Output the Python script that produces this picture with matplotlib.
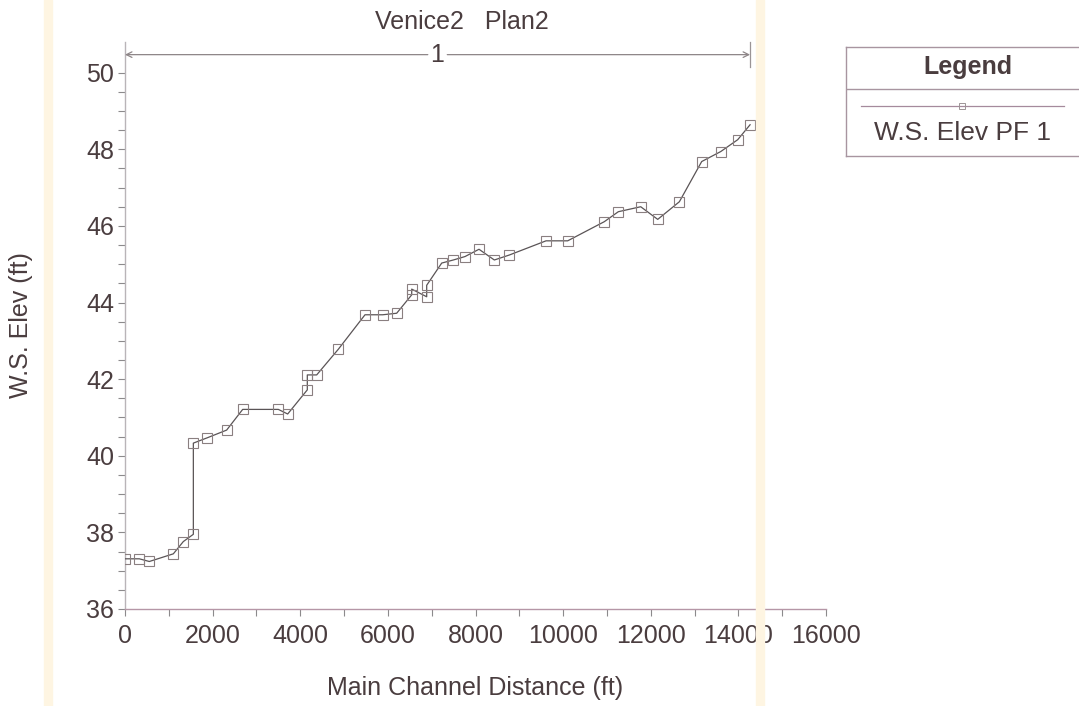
import numpy as np
import matplotlib
matplotlib.use("Agg")
import matplotlib.pyplot as plt
from matplotlib.lines import Line2D

plt.rcParams["font.family"] = ["Liberation Sans", "DejaVu Sans"]

# W.S. elevation profile, reach 1
station = [0, 327, 555, 1103, 1331, 1560, 1560, 1880, 2320, 2686, 3500, 3713,
           4161, 4161, 4375, 4869, 5478, 5882, 6201, 6544, 6544, 6886, 6886,
           7229, 7494, 7761, 8080, 8430, 8772, 9610, 10104, 10940, 11260,
           11771, 12159, 12653, 13163, 13597, 13985, 14267]
ws_elev = [37.31, 37.31, 37.24, 37.44, 37.76, 37.95, 40.33, 40.47, 40.67,
           41.21, 41.21, 41.09, 41.72, 42.11, 42.11, 42.78, 43.68, 43.68,
           43.72, 44.20, 44.35, 44.15, 44.45, 45.03, 45.11, 45.20, 45.39,
           45.11, 45.24, 45.61, 45.61, 46.11, 46.37, 46.50, 46.17, 46.63,
           47.68, 47.94, 48.25, 48.64]
reach_start = 0
reach_end = 14267
reach_name = "1"

x_ticks = [0, 2000, 4000, 6000, 8000, 10000, 12000, 14000, 16000]
y_ticks = [36, 38, 40, 42, 44, 46, 48, 50]

txt = "#4a3d3f"
axis_col = "#b596a6"
tick_col = "#8c8a8c"
fs = 18

W, H = 1079, 706
fig = plt.figure(figsize=(W / 100, H / 100), dpi=100)
fig.patch.set_facecolor("white")

# pale page bands from the scanned sheet
for xc in (48, 760):
    fig.patches.append(plt.Rectangle(((xc - 4) / W, 0), 8 / W, 1,
                                     transform=fig.transFigure,
                                     color="#fef5e2", zorder=0))

ax = fig.add_axes([125 / W, 1 - 609 / H, 701 / W, (609 - 42) / H])
ax.set_facecolor("none")
ax.set_xlim(0, 16000)
ax.set_ylim(36, 50.8)

ax.plot(station, ws_elev, color="#5a5456", lw=0.9, marker="s", ms=7.5,
        mfc="none", mec="#8a7f80", mew=0.8, zorder=3)

# reach boundary and arrow
ax.plot([reach_end, reach_end], [50.15, 50.8], color="#9a9496", lw=0.9,
        clip_on=False)
ax.annotate("", xy=(reach_start, 50.47), xytext=(reach_end / 2, 50.47),
            arrowprops=dict(arrowstyle="->", color="#8e8688", lw=0.9,
                            shrinkA=7, shrinkB=0))
ax.annotate("", xy=(reach_end, 50.47), xytext=(reach_end / 2, 50.47),
            arrowprops=dict(arrowstyle="->", color="#8e8688", lw=0.9,
                            shrinkA=7, shrinkB=0))
ax.text(reach_end / 2, 50.47, reach_name, ha="center", va="center",
        fontsize=fs, color=txt)

for s in ("top", "right"):
    ax.spines[s].set_visible(False)
ax.spines["bottom"].set_color(axis_col)
ax.spines["left"].set_color("#b9b4b8")
ax.spines["bottom"].set_linewidth(1.0)
ax.spines["left"].set_linewidth(1.0)

ax.set_xticks(x_ticks)
ax.set_xticks(np.arange(0, 16001, 1000), minor=True)
ax.set_yticks(y_ticks)
ax.set_yticks(np.arange(36, 50.01, 0.5), minor=True)
ax.tick_params(which="both", direction="out", length=5, width=0.8,
               color=tick_col, labelsize=fs, labelcolor=txt, pad=3)
ax.tick_params(axis="x", pad=6)

ax.set_xlabel("Main Channel Distance (ft)", fontsize=fs, color=txt,
              labelpad=20)
ax.set_ylabel("W.S. Elev (ft)", fontsize=fs, color=txt, labelpad=38)
fig.text(462 / W, 1 - 22 / H, "Venice2   Plan2", ha="center", va="center",
         fontsize=fs, color=txt)

# legend panel (pixel rows measured from the top of the figure)
box_top, box_bot = 47, 156
box_h = box_bot - box_top


def ly(row):
    return (box_bot - row) / box_h


lg = fig.add_axes([846 / W, 1 - box_bot / H, (W - 846 + 20) / W, box_h / H])
lg.set_xlim(0, 1)
lg.set_ylim(0, 1)
lg.set_xticks([])
lg.set_yticks([])
lg.set_facecolor("none")
lg.spines["right"].set_visible(False)
for s in ("top", "left", "bottom"):
    lg.spines[s].set_color("#a895a0")
    lg.spines[s].set_linewidth(1.0)
lg.axhline(ly(89), color="#a895a0", lw=1.0)
lg.add_line(Line2D([0.06, 0.86], [ly(106), ly(106)], color="#a58a9c",
                   lw=0.9))
lg.plot([0.46], [ly(106)], marker="s", ms=5, mfc="none", mec="#9c9496",
        mew=0.7)
lg.text(0.48, ly(67), "Legend", ha="center", va="center",
        fontsize=fs, fontweight="bold", color=txt)
lg.text(0.46, ly(133), "W.S. Elev PF 1", ha="center", va="center",
        fontsize=fs + 1, color=txt)

fig.savefig("out.png", dpi=100, facecolor="white")
